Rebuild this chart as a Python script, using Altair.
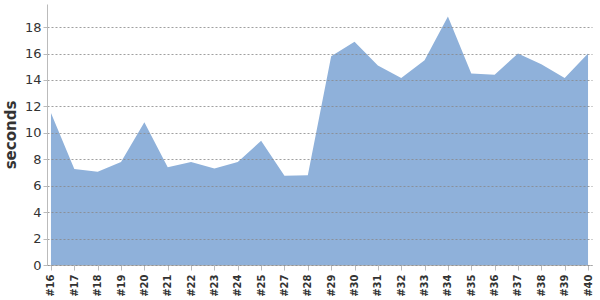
import altair as alt
import pandas as pd

builds = ["#16", "#17", "#18", "#19", "#20", "#21", "#22", "#23", "#24", "#25",
          "#27", "#28", "#29", "#30", "#31", "#32", "#33", "#34", "#35", "#36",
          "#37", "#38", "#39", "#40"]
seconds = [11.5, 7.26, 7.05, 7.8, 10.8, 7.4, 7.8, 7.3, 7.8, 9.4,
           6.75, 6.8, 15.8, 16.9, 15.1, 14.15, 15.5, 18.8, 14.5, 14.4,
           16.0, 15.2, 14.15, 16.0]

df = pd.DataFrame({"build": builds, "seconds": seconds})

chart = alt.Chart(df).mark_area(color="#8fb1da", opacity=1).encode(
    x=alt.X("build:O", sort=builds, title=None,
            scale=alt.Scale(type="point", padding=0.17),
            axis=alt.Axis(labelAngle=-90, labelFontSize=10, labelFontWeight="bold",
                          labelColor="#333", domainColor="#bbb", tickColor="#bbb",
                          labelBaseline="middle", labelAlign="right", labelPadding=4,
                          grid=False)),
    y=alt.Y("seconds:Q", title="seconds",
            scale=alt.Scale(domain=[0, 19.75], nice=False, zero=True),
            axis=alt.Axis(values=list(range(0, 19, 2)), labelFontSize=13, labelColor="#333",
                          titleFontSize=15, titleColor="#333", titleFontWeight="bold",
                          titlePadding=6, domainColor="#bbb", tickColor="#bbb", tickSize=4,
                          gridDash=[2, 2], gridColor="#888", gridOpacity=0.8, zindex=1)),
).properties(
    width=545, height=261,
    autosize=alt.AutoSizeParams(type="none"),
    padding={"left": 47, "top": 4, "right": 8, "bottom": 35},
).configure_view(stroke=None).configure_axis(labelFont="DejaVu Sans", titleFont="DejaVu Sans")

chart.save("out.html", embed_options={"renderer": "svg", "actions": False})
